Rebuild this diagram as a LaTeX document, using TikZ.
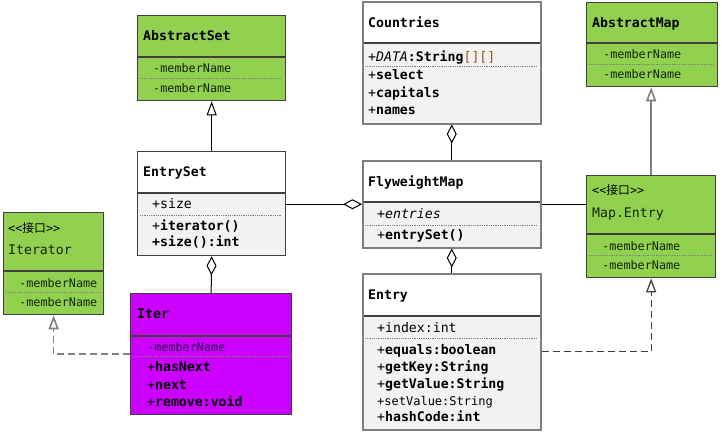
\documentclass[tikz,border=0pt]{standalone}
\usepackage{fontspec}
\setmonofont{DejaVu Sans Mono}
\newfontfamily\cjk{Noto Sans CJK SC}
\usetikzlibrary{arrows.meta}
\definecolor{umlgreen}{HTML}{92D050}
\definecolor{umlmag}{HTML}{CC00FF}
\definecolor{bodygray}{HTML}{F2F2F2}
\definecolor{wborder}{HTML}{7F7F7F}
\definecolor{dborder}{HTML}{404040}
\definecolor{gtext}{HTML}{12250A}
\definecolor{mtext}{HTML}{33004A}
\definecolor{brk}{HTML}{A0501A}
\tikzset{
  wbox/.style={draw=wborder, line width=1.5pt, rectangle, inner sep=0pt, anchor=north west},
  dbox/.style={draw=dborder, line width=1.3pt, rectangle, inner sep=0pt, anchor=north west},
  divline/.style={draw=dborder, line width=1.2pt},
  dotline/.style={draw=gray, line width=0.8pt, dash pattern=on 0.9pt off 0.9pt},
  txt/.style={anchor=base west, inner sep=0pt, font=\ttfamily\fontsize{13.2}{15}\selectfont},
  mem/.style={anchor=base west, inner sep=0pt, font=\ttfamily\fontsize{11.8}{14}\selectfont},
  small/.style={anchor=base west, inner sep=0pt, font=\ttfamily\fontsize{12}{14}\selectfont},
  conn/.style={draw=black, line width=1pt},
  gconn/.style={draw=gray, line width=1.6pt},
  dconn/.style={draw=gray, line width=1.6pt, dash pattern=on 7pt off 4pt},
  ddconn/.style={draw=dborder, line width=1.3pt, dash pattern=on 7pt off 4pt},
  inh/.style={-{Triangle[open, width=10pt, length=14pt]}},
  agg/.style={{Diamond[open, width=10pt, length=19pt]}-},
}
\begin{document}
\begin{tikzpicture}[x=1pt, y=-1pt]
\useasboundingbox (0,0) rectangle (722,434);
\fill[white] (0,0) rectangle (722,434);

% ---------- AbstractSet
\fill[umlgreen] (137,15) rectangle (285,100);
\draw[divline] (137,57) -- (285,57);
\draw[dotline] (140,78) -- (282,78);
\node[dbox, minimum width=148pt, minimum height=85pt] (aset) at (137,15) {};
\node[txt] (aset-t) at (143,40.5) {\textbf{AbstractSet}};
\node[mem, text=gtext] (aset-m1) at (153,72) {-memberName};
\node[mem, text=gtext] (aset-m2) at (153,92) {-memberName};

% ---------- Countries
\fill[white] (362,1) rectangle (540,43);
\fill[bodygray] (362,43) rectangle (540,123);
\draw[divline] (362,43) -- (540,43);
\draw[dotline] (365,66) -- (537,66);
\node[wbox, minimum width=178pt, minimum height=122pt] (countries) at (362,1) {};
\node[txt] (countries-t) at (368,27.5) {\textbf{Countries}};
\node[txt] (countries-a) at (368,61.5) {+\textit{DATA}\textbf{:String}\textcolor{brk}{[][]}};
\node[txt] (countries-m1) at (368,79.5) {+\textbf{select}};
\node[txt] (countries-m2) at (368,97.5) {+\textbf{capitals}};
\node[txt] (countries-m3) at (368,114.5) {+\textbf{names}};

% ---------- AbstractMap
\fill[umlgreen] (586,2) rectangle (717,86);
\draw[divline] (586,43) -- (717,43);
\draw[dotline] (589,64) -- (714,64);
\node[dbox, minimum width=131pt, minimum height=84pt] (amap) at (586,2) {};
\node[txt] (amap-t) at (592,27.5) {\textbf{AbstractMap}};
\node[mem, text=gtext] (amap-m1) at (603,58) {-memberName};
\node[mem, text=gtext] (amap-m2) at (603,78) {-memberName};

% ---------- EntrySet
\fill[white] (137,151) rectangle (285,193);
\fill[bodygray] (137,193) rectangle (285,255);
\draw[divline] (137,193) -- (285,193);
\draw[dotline] (140,215) -- (282,215);
\node[dbox, minimum width=148pt, minimum height=104pt] (eset) at (137,151) {};
\node[txt] (eset-t) at (143,176.5) {\textbf{EntrySet}};
\node[txt] (eset-a) at (152,208.5) {+size};
\node[txt] (eset-m1) at (152,230.5) {+\textbf{iterator()}};
\node[txt] (eset-m2) at (152,246.5) {\textbf{+size():int}};

% ---------- FlyweightMap
\fill[white] (362,160) rectangle (540,202);
\fill[bodygray] (362,202) rectangle (540,247);
\draw[divline] (362,202) -- (540,202);
\draw[dotline] (365,225) -- (537,225);
\node[wbox, minimum width=178pt, minimum height=87pt] (flyw) at (362,160) {};
\node[txt] (flyw-t) at (368,186.5) {\textbf{FlyweightMap}};
\node[txt] (flyw-a) at (377,218.5) {\textit{+entries}};
\node[txt] (flyw-m) at (377,239.5) {+\textbf{entrySet()}};

% ---------- Map.Entry
\fill[umlgreen] (586,175) rectangle (715,277);
\draw[divline] (586,234) -- (715,234);
\draw[dotline] (589,255) -- (712,255);
\node[dbox, minimum width=129pt, minimum height=102pt] (mapentry) at (586,175) {};
\node[mem, text=black] (mapentry-s) at (592,194) {<<{\cjk 接口}>>};
\node[txt, text=gtext] (mapentry-t) at (592,217.5) {Map.Entry};
\node[mem, text=gtext] (mapentry-m1) at (602,250) {-memberName};
\node[mem, text=gtext] (mapentry-m2) at (602,269) {-memberName};

% ---------- Iterator
\fill[umlgreen] (3,212) rectangle (103,314);
\draw[divline] (3,271) -- (103,271);
\draw[dotline] (6,292) -- (100,292);
\node[dbox, minimum width=100pt, minimum height=102pt] (iterator) at (3,212) {};
\node[mem, text=black] (iterator-s) at (8,232) {<<{\cjk 接口}>>};
\node[txt, text=gtext] (iterator-t) at (8,254.5) {Iterator};
\node[mem, text=gtext] (iterator-m1) at (19,287) {-memberName};
\node[mem, text=gtext] (iterator-m2) at (19,306) {-memberName};

% ---------- Iter
\fill[umlmag] (130,293) rectangle (291,414);
\draw[divline] (130,336) -- (291,336);
\draw[dotline] (133,356) -- (288,356);
\node[dbox, minimum width=161pt, minimum height=121pt] (iter) at (130,293) {};
\node[txt] (iter-t) at (137,318.5) {\textbf{Iter}};
\node[mem, text=mtext] (iter-a) at (147,351) {-memberName};
\node[txt] (iter-m1) at (147,371.5) {+\textbf{hasNext}};
\node[txt] (iter-m2) at (147,389.5) {+\textbf{next}};
\node[txt] (iter-m3) at (147,406.5) {+\textbf{remove:void}};

% ---------- Entry
\fill[white] (362,273) rectangle (540,316);
\fill[bodygray] (362,316) rectangle (540,429);
\draw[divline] (362,316) -- (540,316);
\draw[dotline] (365,338) -- (537,338);
\node[wbox, minimum width=178pt, minimum height=156pt] (entry) at (362,273) {};
\node[txt] (entry-t) at (368,299.5) {\textbf{Entry}};
\node[txt] (entry-a) at (377,332.5) {+index:int};
\node[txt] (entry-m1) at (377,354.5) {+\textbf{equals:boolean}};
\node[txt] (entry-m2) at (377,371.5) {+\textbf{getKey:String}};
\node[txt] (entry-m3) at (377,388.5) {+\textbf{getValue:String}};
\node[small] (entry-m4) at (377,405) {+setValue:String};
\node[txt] (entry-m5) at (377,421.5) {+\textbf{hashCode:int}};

% ---------- connectors
\draw[conn, inh] (eset.north) -- (aset.south);
\draw[conn, agg] (countries.south) -- (flyw.north);
\draw[gconn, inh] (mapentry.north) -- (mapentry.north |- amap.south);
\draw[conn, agg] (flyw.west) -- (eset.east |- flyw.west);
\draw[conn] (flyw.east) -- (flyw.east -| mapentry.west);
\draw[conn, agg] (flyw.south) -- (entry.north);
\draw[conn, agg] (eset.south) -- (iter.north);
\draw[dconn, inh] (iter.west) -| (iterator.south);
\draw[ddconn, inh] (entry.east) -| (mapentry.south);
\end{tikzpicture}
\end{document}
